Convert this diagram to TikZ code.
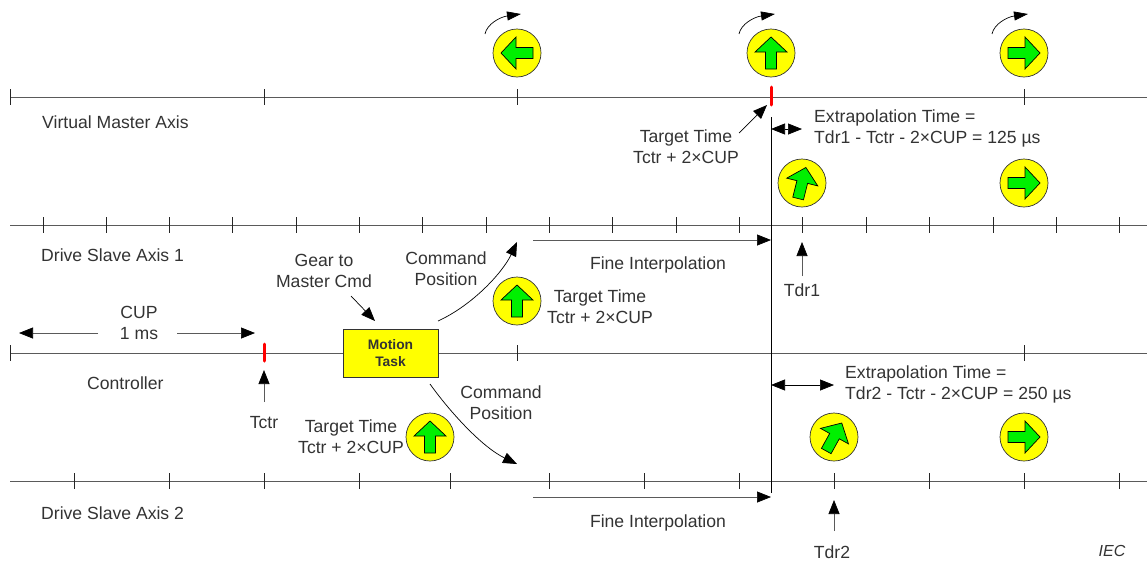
\documentclass[tikz,border=0pt]{standalone}
\usepackage{fontspec}
\setmainfont{Liberation Sans}
\usetikzlibrary{arrows.meta}
\definecolor{txt}{HTML}{333333}
\definecolor{axisc}{HTML}{5A5A5A}
\definecolor{greenf}{RGB}{0,240,0}
\definecolor{yel}{RGB}{255,255,0}
\definecolor{redt}{RGB}{255,0,0}
\tikzset{
 axisline/.style={draw=axisc,line width=1pt},
 tickm/.style={draw=black!85,line width=0.7pt},
 redtick/.style={draw=redt,line width=3pt,line cap=round},
 lbl/.style={inner sep=0pt,text=txt,font=\fontsize{17.6}{21}\selectfont,align=center},
 lbll/.style={lbl,align=left,anchor=west},
 conn/.style={draw=black,line width=0.7pt,-{Triangle[length=14pt,width=11pt,color=black]}},
 conn2/.style={draw=black,line width=0.7pt,{Triangle[length=14pt,width=11pt,color=black]}-{Triangle[length=14pt,width=11pt,color=black]}},
 disc/.style={circle,draw=black!80,fill=yel,line width=0.7pt,minimum size=48pt,inner sep=0pt},
 arr/.style={draw=black,fill=greenf,line width=0.7pt,line join=miter},
}
\newcommand{\markerdisc}[3]{% name, position, clockwise rotation
 \node[disc] (#1) at (#2) {};
 \path[arr,shift={(#2)},rotate=-#3] (0,-16)--(16,-1)--(5.5,-1)--(5.5,16)--(-5.5,16)--(-5.5,-1)--(-16,-1)--cycle;
}
\begin{document}
\begin{tikzpicture}[x=1pt,y=-1pt]
\useasboundingbox (0,0) rectangle (1147,560);
% axes
\coordinate (v0) at (10,97); \coordinate (v1) at (1147,97);
\coordinate (d0) at (10,225); \coordinate (d1) at (1147,225);
\coordinate (c0) at (10,353); \coordinate (c1) at (1147,353);
\coordinate (e0) at (10,481); \coordinate (e1) at (1147,481);
\draw[axisline] (v0)--(v1);
\draw[axisline] (d0)--(d1);
\draw[axisline] (c0)--(c1);
\draw[axisline] (e0)--(e1);
\foreach \x in {10,264,517,1024} \draw[tickm] (\x,89)--(\x,105);
\foreach \x in {43,106,169,232,296,359,422,486,549,612,676,739,802,866,929,993,1056,1119} \draw[tickm] (\x,217)--(\x,233);
\foreach \x in {10,517,1024} \draw[tickm] (\x,345)--(\x,361);
\foreach \x in {74,169,264,359,450,549,644,739,834,929,1024,1119} \draw[tickm] (\x,473)--(\x,489);
\draw[redtick] (771,87)--(771,105);
\draw[redtick] (264,344)--(264,361);
% vertical reference
\coordinate (vt) at (771,117); \coordinate (vb) at (771,493);
\draw[black,line width=0.6pt] (vt)--(vb);
% discs
\markerdisc{a1}{517,53}{-90}
\markerdisc{a2}{771,53}{0}
\markerdisc{a3}{1024,53}{90}
\markerdisc{b1}{802,183}{14}
\markerdisc{b2}{1024,183}{90}
\markerdisc{m1}{517,301}{0}
\markerdisc{m2}{430,437}{0}
\markerdisc{e1d}{834,437}{29}
\markerdisc{e2d}{1024,437}{90}
% rotation arrows
\foreach \x in {517,771,1024}{
 \draw[black,line width=0.7pt,-{Triangle[length=14pt,width=9pt,color=black]}] (\x-32,34) .. controls (\x-30,24) and (\x-17,17) .. (\x+4,14);
}
% box
\node[draw=black!80,fill=yel,line width=0.8pt,minimum width=95pt,minimum height=48pt,inner sep=0pt,
 font=\fontsize{13.8}{17}\selectfont\bfseries,text=txt,align=center] (task) at (390.5,353) {Motion\\Task};
% labels
\node[lbll] (lv) at (42,122) {Virtual Master Axis};
\node[lbll] (ld) at (41,255) {Drive Slave Axis 1};
\node[lbll] (lc) at (87,383) {Controller};
\node[lbll] (le) at (41,513) {Drive Slave Axis 2};
\node[lbl] (cup) at (139,322.5) {CUP\\1 ms};
\coordinate (cupl) at (19,333); \coordinate (cupr) at (255,333);
\coordinate (cupla) at (98,333); \coordinate (cupra) at (177,333);
\draw[conn,draw=axisc] (cupla)--(cupl);
\draw[conn,draw=axisc] (cupra)--(cupr);
\node[lbl] (tctr) at (264,423) {Tctr};
\coordinate (tctra) at (264,402); \coordinate (tctrb) at (264,370);
\draw[conn,draw=axisc] (tctra)--(tctrb);
\node[lbl] (gear) at (324,270.5) {Gear to\\Master Cmd};
\coordinate (geara) at (351,296); \coordinate (gearb) at (375,321);
\draw[conn] (geara)--(gearb);
\node[lbl] (cmd1) at (446,268.5) {Command\\Position};
\node[lbl] (cmd2) at (501,402.5) {Command\\Position};
\coordinate (c1a) at (438,321); \coordinate (c1b) at (517,242);
\draw[conn] (c1a) .. controls (473,305) and (503,272) .. (c1b);
\coordinate (c2a) at (430,384); \coordinate (c2b) at (517,464);
\draw[conn] (c2a) .. controls (450,412) and (482,447) .. (c2b);
\node[lbl] (tt1) at (686,146.5) {Target Time\\Tctr + 2×CUP};
\node[lbl] (tt2) at (600,306.5) {Target Time\\Tctr + 2×CUP};
\node[lbl] (tt3) at (351,436.5) {Target Time\\Tctr + 2×CUP};
\coordinate (tta) at (739,133); \coordinate (ttb) at (767,105);
\draw[conn] (tta)--(ttb);
\node[lbll] (ex1) at (814,128.5) {Extrapolation Time =\\Tdr1 - Tctr - 2×CUP = 125 µs};
\node[lbll] (ex2) at (845,384.5) {Extrapolation Time =\\Tdr2 - Tctr - 2×CUP = 250 µs};
\coordinate (xa1) at (771,129); \coordinate (xb1) at (802,129);
\draw[conn2] (xa1)--(xb1);
\coordinate (xa2) at (771,385); \coordinate (xb2) at (834,385);
\draw[conn2] (xa2)--(xb2);
\node[lbl] (fi1) at (658,265) {Fine Interpolation};
\node[lbl] (fi2) at (658,523) {Fine Interpolation};
\coordinate (fa1) at (533,240); \coordinate (fb1) at (771,240);
\draw[conn,draw=axisc] (fa1)--(fb1);
\coordinate (fa2) at (533,497); \coordinate (fb2) at (771,497);
\draw[conn,draw=axisc] (fa2)--(fb2);
\node[lbl] (tdr1) at (802,290) {Tdr1};
\coordinate (t1a) at (802,276); \coordinate (t1b) at (802,242);
\draw[conn,draw=axisc] (t1a)--(t1b);
\node[lbl] (tdr2) at (832,552) {Tdr2};
\coordinate (t2a) at (834,531); \coordinate (t2b) at (834,500);
\draw[conn,draw=axisc] (t2a)--(t2b);
\node[inner sep=0pt,text=txt,font=\fontsize{16}{18}\selectfont\itshape] (iec) at (1112,551) {IEC};
\end{tikzpicture}
\end{document}
